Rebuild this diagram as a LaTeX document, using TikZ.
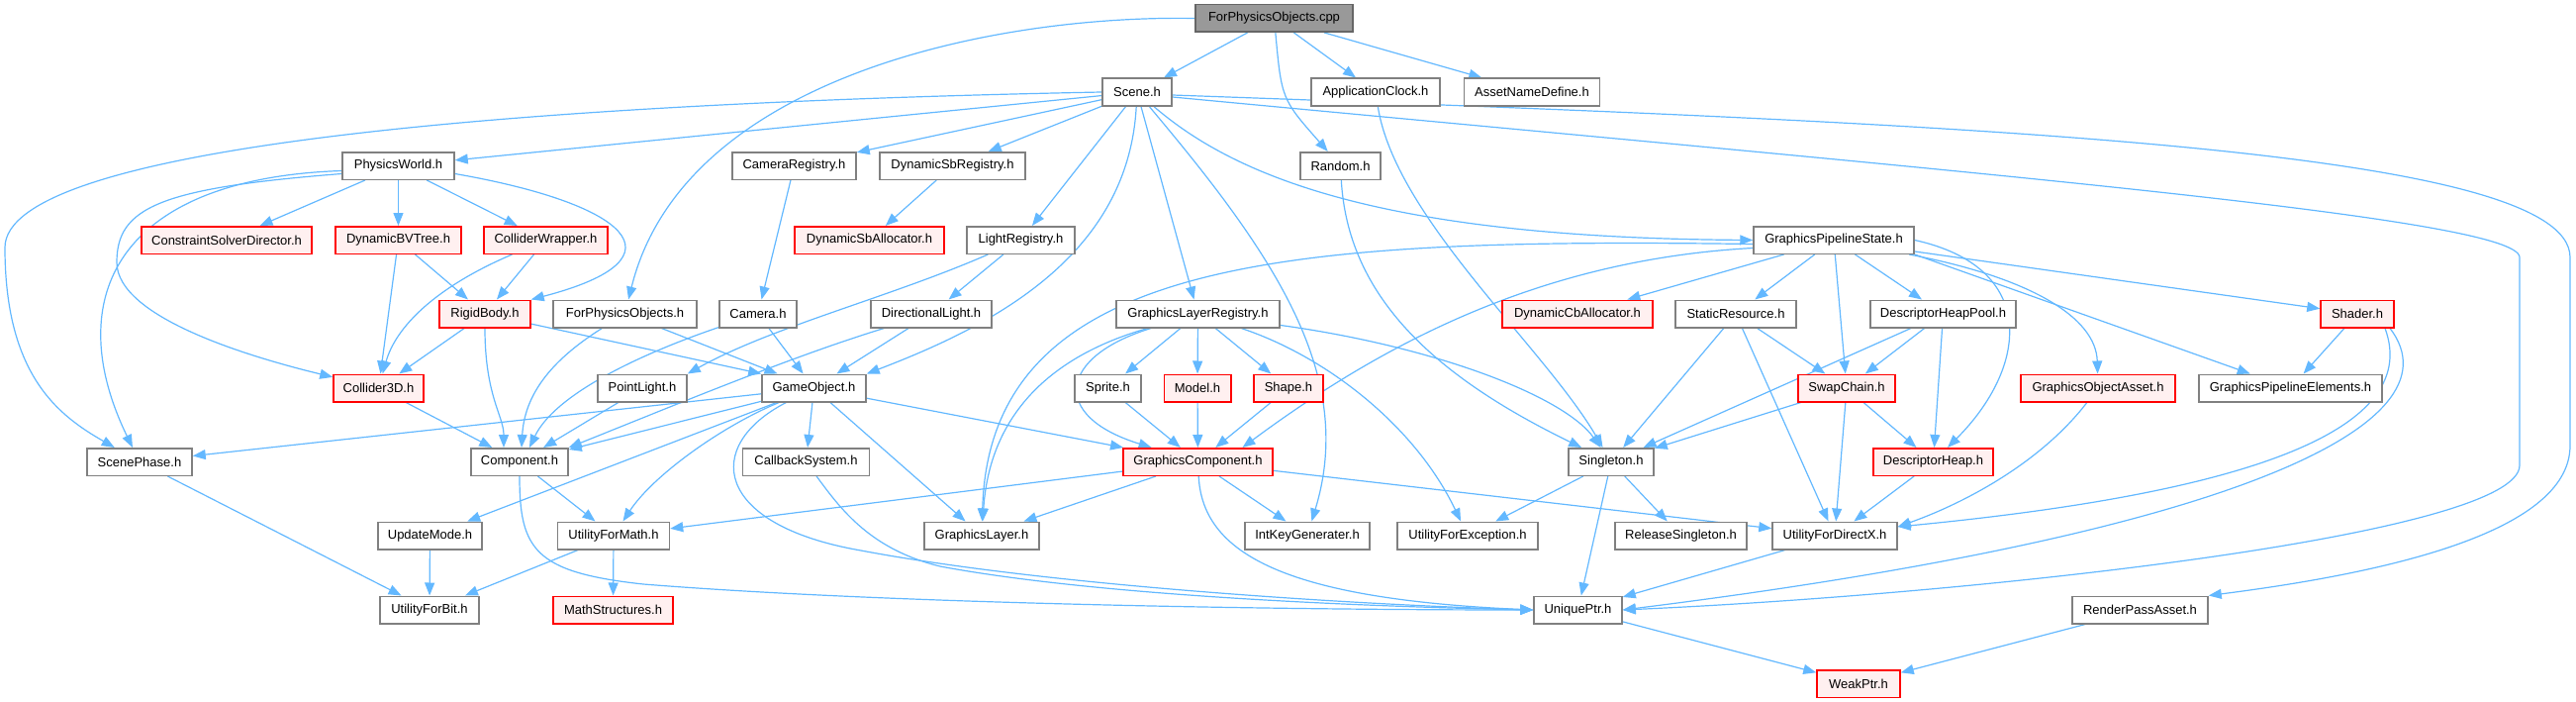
\documentclass[tikz,border=0pt]{standalone}
\usepackage{fontspec}
\setmainfont{Liberation Sans}
\usetikzlibrary{arrows.meta,calc}
\definecolor{edgec}{RGB}{99,184,255}
\definecolor{nborder}{RGB}{128,128,128}
\definecolor{rborder}{RGB}{255,0,0}
\definecolor{rfill}{RGB}{255,240,240}
\definecolor{rootfill}{RGB}{153,153,153}
\definecolor{rootborder}{RGB}{102,102,102}
\pgfdeclarelayer{bg}
\pgfsetlayers{bg,main}
\tikzset{
  nb/.style={draw=nborder, fill=white, line width=1.5pt, minimum height=27.5pt, inner sep=0pt,
    font=\fontsize{13}{15}\selectfont, text=black},
  rb/.style={nb, draw=rborder, fill=rfill},
  rootb/.style={nb, draw=rootborder, fill=rootfill},
  e/.style={draw=edgec, line width=1.2pt, -{Triangle[length=13pt,width=10pt]}, fill=none},
}
\begin{document}
\begin{tikzpicture}[x=1pt,y=-1pt]
\useasboundingbox (0,0) rectangle (2603,709);
% row 0
\node[rootb, minimum width=159pt] (root) at (1287.5,18.5) {ForPhysicsObjects.cpp};
% row 1
\node[nb, minimum width=70pt] (scene) at (1149,93) {Scene.h};
\node[nb, minimum width=130pt] (appclk) at (1390,93) {ApplicationClock.h};
\node[nb, minimum width=137pt] (asset) at (1548,93) {AssetNameDefine.h};
% row 2
\node[nb, minimum width=113pt] (pw) at (402.5,167.5) {PhysicsWorld.h};
\node[nb, minimum width=125pt] (camreg) at (802.5,167.5) {CameraRegistry.h};
\node[nb, minimum width=147pt] (sbreg) at (962.5,167.5) {DynamicSbRegistry.h};
\node[nb, minimum width=81pt] (random) at (1354.5,167.5) {Random.h};
% row 3
\node[rb, minimum width=172pt] (csd) at (229,242.5) {ConstraintSolverDirector.h};
\node[rb, minimum width=127pt] (bvt) at (402.5,242.5) {DynamicBVTree.h};
\node[rb, minimum width=125pt] (cw) at (551.5,242.5) {ColliderWrapper.h};
\node[rb, minimum width=151pt] (sballoc) at (878.5,242.5) {DynamicSbAllocator.h};
\node[nb, minimum width=109pt] (lightreg) at (1031.5,242.5) {LightRegistry.h};
\node[nb, minimum width=162pt] (gps) at (1853,242.5) {GraphicsPipelineState.h};
% row 4
\node[rb, minimum width=92pt] (rbody) at (490,317) {RigidBody.h};
\node[nb, minimum width=145pt] (fpoh) at (631.5,317) {ForPhysicsObjects.h};
\node[nb, minimum width=78pt] (camera) at (766,317) {Camera.h};
\node[nb, minimum width=122pt] (dlight) at (941,317) {DirectionalLight.h};
\node[nb, minimum width=165pt] (glr) at (1210.5,317) {GraphicsLayerRegistry.h};
\node[rb, minimum width=152pt] (cballoc) at (1594,317) {DynamicCbAllocator.h};
\node[nb, minimum width=122pt] (staticres) at (1754,317) {StaticResource.h};
\node[nb, minimum width=147pt] (dhp) at (1963.5,317) {DescriptorHeapPool.h};
\node[rb, minimum width=74pt] (shader) at (2382,317) {Shader.h};
% row 5
\node[rb, minimum width=91pt] (col3d) at (382.5,392) {Collider3D.h};
\node[nb, minimum width=90pt] (plight) at (649,392) {PointLight.h};
\node[nb, minimum width=105pt] (go) at (822.5,392) {GameObject.h};
\node[nb, minimum width=67pt] (sprite) at (1119.5,392) {Sprite.h};
\node[rb, minimum width=67.5pt] (model) at (1210,392) {Model.h};
\node[rb, minimum width=70pt] (shape) at (1302,392) {Shape.h};
\node[rb, minimum width=98pt] (swap) at (1866,392) {SwapChain.h};
\node[rb, minimum width=156pt] (goa) at (2120,392) {GraphicsObjectAsset.h};
\node[nb, minimum width=185pt] (gpe) at (2314.5,392) {GraphicsPipelineElements.h};
% row 6
\node[nb, minimum width=106pt] (sphase) at (141,466.5) {ScenePhase.h};
\node[nb, minimum width=98pt] (comp) at (525,466.5) {Component.h};
\node[nb, minimum width=128pt] (cbs) at (814.5,466.5) {CallbackSystem.h};
\node[rb, minimum width=151pt] (gc) at (1210.5,466.5) {GraphicsComponent.h};
\node[nb, minimum width=86pt] (single) at (1628,466.5) {Singleton.h};
\node[rb, minimum width=121pt] (dheap) at (1953.5,466.5) {DescriptorHeap.h};
% row 7
\node[nb, minimum width=105pt] (upd) at (434.5,541) {UpdateMode.h};
\node[nb, minimum width=113pt] (ufm) at (620,541) {UtilityForMath.h};
\node[nb, minimum width=116pt] (glayer) at (992,541) {GraphicsLayer.h};
\node[nb, minimum width=126pt] (intkey) at (1321,541) {IntKeyGenerater.h};
\node[nb, minimum width=142pt] (ufe) at (1483,541) {UtilityForException.h};
\node[nb, minimum width=133pt] (relsing) at (1698.5,541) {ReleaseSingleton.h};
\node[nb, minimum width=126pt] (ufdx) at (1854,541) {UtilityForDirectX.h};
% row 8
\node[nb, minimum width=100pt] (ufb) at (434,616) {UtilityForBit.h};
\node[rb, minimum width=121pt] (mathst) at (619.5,616) {MathStructures.h};
\node[nb, minimum width=89pt] (uptr) at (1594.5,616) {UniquePtr.h};
\node[nb, minimum width=137pt] (rpa) at (2162.5,616) {RenderPassAsset.h};
% row 9
\node[rb, minimum width=84pt] (wptr) at (1878,690.5) {WeakPtr.h};

\begin{pgfonlayer}{bg}
% root
\draw[e] (root) -- (scene);
\draw[e] (root) .. controls (1295,100) .. (random);
\draw[e] (root) -- (appclk);
\draw[e] (root) -- (asset);
\draw[e] (root.west) .. controls (1000,15) and (690,80) .. (fpoh);
% scene
\draw[e] (scene) -- (pw);
\draw[e] (scene.west) .. controls (500,105) and (5,150) .. (5,250) .. controls (5,380) and (60,420) .. (sphase);
\draw[e] (scene) -- (camreg);
\draw[e] (scene) -- (sbreg);
\draw[e] (scene) -- (lightreg);
\draw[e] (scene) .. controls (1140,260) and (1000,330) .. (go.north east);
\draw[e] (scene) -- (glr);
\draw[e] (scene) .. controls (1290,260) and (1370,380) .. (intkey);
\draw[e] (scene) .. controls (1250,180) and (1400,240) .. (gps.west);
\draw[e] ($(scene.east)+(0,5)$) .. controls (2000,175) and (2546,220) .. (2546,260) -- (2546,470) .. controls (2546,540) and (2000,600) .. (uptr.east);
\draw[e] ($(scene.east)+(0,3)$) .. controls (2000,125) and (2597,150) .. (2597,260) -- (2597,450) .. controls (2597,540) and (2400,580) .. (rpa.north east);
% physics world
\draw[e] (pw) -- (csd);
\draw[e] (pw) -- (bvt);
\draw[e] (pw) -- (cw);
\draw[e] ($(pw.east)+(0,8)$) .. controls (630,205) and (700,260) .. (rbody.north east);
\draw[e] ($(pw.west)+(0,5)$) .. controls (120,180) and (60,300) .. (sphase);
\draw[e] ($(pw.west)+(0,8)$) .. controls (160,190) and (118,210) .. (118,265) .. controls (118,320) and (250,360) .. (col3d);
\draw[e] (bvt) -- (rbody);
\draw[e] (bvt) -- (col3d);
\draw[e] (cw) -- (rbody);
\draw[e] (cw) .. controls (440,290) and (400,330) .. (col3d);
\draw[e] (rbody.south) .. controls (490,400) and (509,420) .. ($(comp.north)+(-16,0)$);
\draw[e] (rbody) -- (col3d);
\draw[e] (rbody) -- (go.north west);
\draw[e] (col3d) -- (comp);
% for physics objects / camera / lights
\draw[e] (fpoh) .. controls (555,365) and (530,400) .. ($(comp.north)+(2,0)$);
\draw[e] (fpoh) -- (go);
\draw[e] (camera) .. controls (640,360) and (560,400) .. ($(comp.north)+(10,0)$);
\draw[e] (camera) -- (go);
\draw[e] (camreg) -- (camera);
\draw[e] (sbreg) -- (sballoc);
\draw[e] (lightreg) -- (dlight);
\draw[e] (lightreg) .. controls (900,300) and (780,330) .. (plight.north east);
\draw[e] (dlight) -- (go);
\draw[e] (dlight) .. controls (800,360) and (680,410) .. (comp.north east);
\draw[e] (plight) -- (comp);
% game object
\draw[e] (go) -- ($(sphase.east)+(0,-6)$);
\draw[e] (go) -- (comp);
\draw[e] (go) -- (upd);
\draw[e] (go) .. controls (730,430) and (660,480) .. (ufm);
\draw[e] (go) -- (cbs);
\draw[e] (go) -- (glayer);
\draw[e] (go) -- (gc);
\draw[e] (go) .. controls (710,450) and (720,530) .. (870,556) .. controls (1050,590) and (1350,610) .. (uptr.west);
\draw[e] (cbs) .. controls (850,515) and (880,555) .. (950,572) .. controls (1100,600) and (1350,612) .. (uptr.west);
\draw[e] (comp) -- (ufm);
\draw[e] (comp.south) .. controls (525,555) and (540,578) .. (650,590) .. controls (900,610) and (1300,616) .. (uptr.west);
\draw[e] (upd) -- (ufb);
\draw[e] (ufm) -- (ufb);
\draw[e] (ufm) -- (mathst);
\draw[e] (sphase) -- (ufb);
% graphics layer registry
\draw[e] (glr) -- (sprite);
\draw[e] (glr) -- (model);
\draw[e] (glr) -- (shape);
\draw[e] (glr) .. controls (1070,360) and (1060,420) .. (gc);
\draw[e] (glr) .. controls (1060,360) and (1000,420) .. (glayer);
\draw[e] (glr) .. controls (1450,350) and (1580,400) .. (single);
\draw[e] (glr) .. controls (1340,360) and (1430,430) .. (ufe);
\draw[e] (sprite) -- (gc);
\draw[e] (model) -- (gc);
\draw[e] (shape) -- (gc);
% graphics component
\draw[e] (gc) -- (ufm);
\draw[e] (gc) -- (glayer);
\draw[e] (gc) -- (intkey);
\draw[e] (gc) .. controls (1215,560) and (1300,605) .. (uptr.west);
\draw[e] (gc) -- (ufdx);
% graphics pipeline state
\draw[e] (gps) -- (cballoc);
\draw[e] (gps) -- (staticres);
\draw[e] (gps) -- (swap);
\draw[e] (gps) -- (dhp);
\draw[e] (gps.east) .. controls (2060,270) and (2050,370) .. (dheap);
\draw[e] (gps) .. controls (2050,280) and (2118,320) .. (goa);
\draw[e] (gps.south east) -- (gpe);
\draw[e] (gps) -- (shader);
\draw[e] ($(gps.west)+(0,8)$) .. controls (1560,262) and (1400,345) .. ($(gc.north)+(45,0)$);
\draw[e] ($(gps.west)+(0,4)$) .. controls (1300,240) and (1000,260) .. (glayer);
% resources
\draw[e] (staticres) -- (single);
\draw[e] (staticres) -- (swap);
\draw[e] (staticres) -- (ufdx);
\draw[e] (dhp) -- (single);
\draw[e] (dhp) -- (swap);
\draw[e] (dhp) -- (dheap);
\draw[e] (shader) -- (gpe);
\draw[e] ($(shader.south)+(28,0)$) .. controls (2450,440) and (2250,500) .. ($(ufdx.east)+(0,-9)$);
\draw[e] ($(shader.south)+(33,0)$) .. controls (2490,430) and (2250,540) .. (uptr.east);
\draw[e] (swap) -- (single);
\draw[e] (swap) -- (dheap);
\draw[e] (swap) -- (ufdx);
\draw[e] (dheap) -- (ufdx);
\draw[e] (goa) .. controls (2060,470) and (1980,510) .. ($(ufdx.east)+(0,-9)$);
% singleton etc.
\draw[e] (appclk) .. controls (1410,220) and (1560,350) .. (single);
\draw[e] (random) .. controls (1362,300) and (1450,380) .. (single);
\draw[e] (single) -- (ufe);
\draw[e] (single) -- (relsing);
\draw[e] (single) -- (uptr);
\draw[e] (ufdx) -- (uptr);
\draw[e] (uptr) -- (wptr);
\draw[e] (rpa) -- (wptr);
\end{pgfonlayer}
\end{tikzpicture}
\end{document}
